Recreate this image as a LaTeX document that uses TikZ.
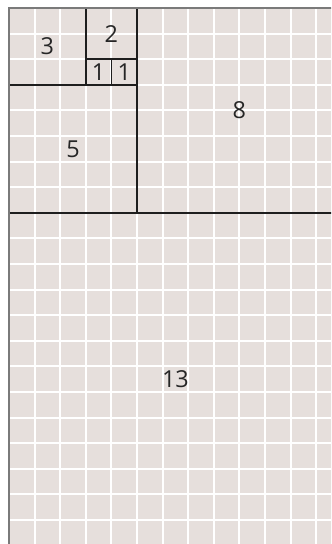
\documentclass[tikz,border=0pt]{standalone}
\usepackage{fontspec}
\setmainfont{Open Sans}
\definecolor{tilefill}{HTML}{E6DFDC}
\definecolor{framegray}{HTML}{7A7A7A}
\definecolor{edgeblack}{HTML}{1E1E1E}
\begin{document}
\begin{tikzpicture}[font=\fontsize{26}{30}\selectfont]
    % Styles
    \tikzset{grid line/.style={white, line width=2.2pt},
             tile edge/.style={edgeblack, line width=2pt},
             frame/.style={framegray, line width=2.8pt},
             tile label/.style={text=black!85, inner sep=0pt}}

    % Page frame (picture is cut off on the right and bottom)
    \useasboundingbox (-0.352, 0.0625) rectangle (12.578, 21.3125);
    \clip (-0.352, 0.0625) rectangle (12.578, 21.3125);

    % Background and unit grid
    \fill[tilefill] (0,0) rectangle (13,21);
    \draw[grid line] (0,0) grid (13,21);

    % Corners of the squares
    \coordinate (tl) at (0,21);
    \coordinate (tr) at (13,21);
    \coordinate (bl) at (0,0);
    \coordinate (m13l) at (0,13);
    \coordinate (m13r) at (13,13);
    \coordinate (m8b) at (5,13);
    \coordinate (m8t) at (5,21);
    \coordinate (m5l) at (0,18);
    \coordinate (m5r) at (5,18);
    \coordinate (m3b) at (3,18);
    \coordinate (m3t) at (3,21);
    \coordinate (m2l) at (3,19);
    \coordinate (m2r) at (5,19);
    \coordinate (m1t) at (4,19);
    \coordinate (m1b) at (4,18);

    % Square boundaries
    \draw[tile edge] (m13l) -- (m13r);
    \draw[tile edge] (m8b) -- (m8t);
    \draw[tile edge] (m5l) -- (m5r);
    \draw[tile edge] (m3b) -- (m3t);
    \draw[tile edge] (m2l) -- (m2r);
    \draw[tile edge] (m1t) -- (m1b);

    % Outer frame
    \draw[frame] (bl) -- (tl) -- (tr);

    % Square sizes
    \node[tile label] (sq13) at (6.5,6.5) {13};
    \node[tile label] (sq8) at (9,17) {8};
    \node[tile label] (sq5) at (2.5,15.5) {5};
    \node[tile label] (sq3) at (1.5,19.5) {3};
    \node[tile label] (sq2) at (4,20) {2};
    \node[tile label] (sq1a) at (3.5,18.5) {1};
    \node[tile label] (sq1b) at (4.5,18.5) {1};
\end{tikzpicture}
\end{document}
